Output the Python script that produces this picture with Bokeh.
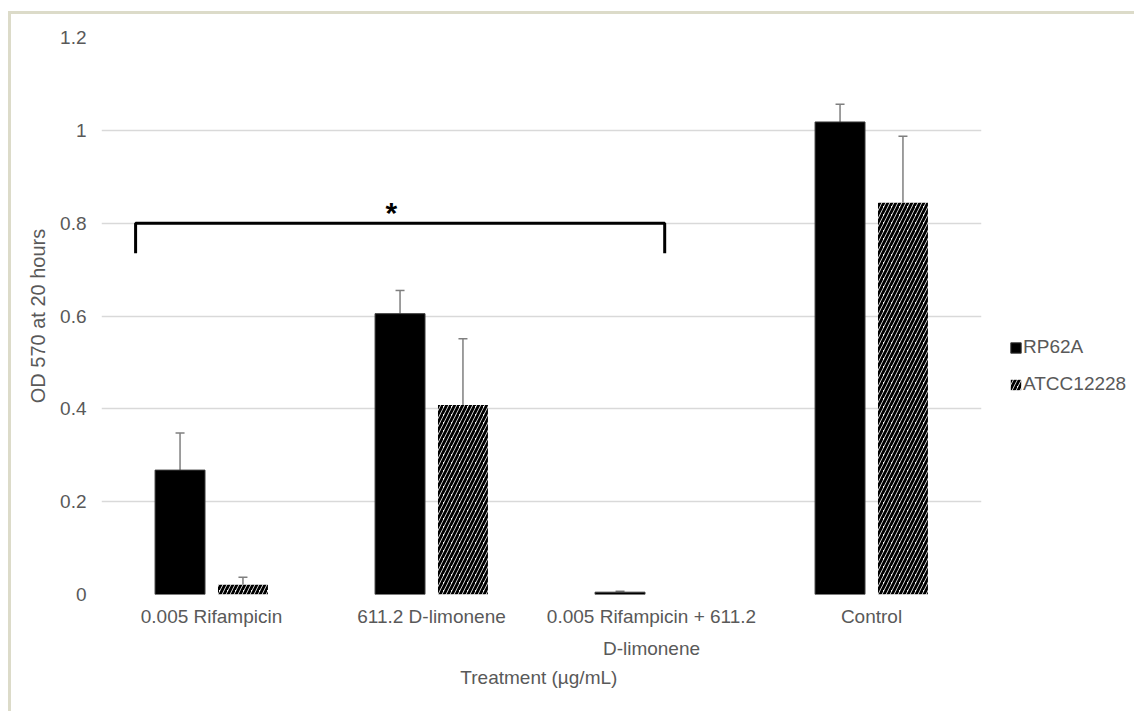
from bokeh.plotting import figure
from bokeh.models import (ColumnDataSource, FactorRange, Whisker, TeeHead, Legend,
                          LegendItem, Range1d, FixedTicker, Label)
from bokeh.transform import dodge
from bokeh.embed import file_html
from bokeh.resources import INLINE

# ---------------- data ----------------
treatments = ["0.005 Rifampicin", "611.2 D-limonene",
              "0.005 Rifampicin + 611.2\nD-limonene", "Control"]
series_names = ["RP62A", "ATCC12228"]
rp62a = [0.268, 0.605, 0.005, 1.018]
rp62a_err = [0.080, 0.050, 0.002, 0.038]
atcc = [0.021, 0.408, 0.0, 0.844]
atcc_err = [0.016, 0.143, 0.0, 0.143]
y_ticks = [0, 0.2, 0.4, 0.6, 0.8, 1.0, 1.2]
y_tick_labels = ["0", "0.2", "0.4", "0.6", "0.8", "1", "1.2"]
x_title = "Treatment  (\u00b5g/mL)"
y_title = "OD 570 at 20 hours"
sig_mark = "*"
sig_level = 0.8          # bracket height (data units)
sig_drop = 0.065         # bracket arms

FONT = "Liberation Sans"
GREY = "#595959"
FS = "19px"

src = ColumnDataSource(dict(
    cat=treatments, rp=rp62a, at=atcc,
))


def err_source(vals, errs):
    keep = [i for i, e in enumerate(errs) if e > 0]
    return ColumnDataSource(dict(
        cat=[treatments[i] for i in keep],
        lo=[vals[i] for i in keep],
        hi=[vals[i] + errs[i] for i in keep],
    ))


p = figure(x_range=FactorRange(*treatments), y_range=Range1d(0, 1.2),
           frame_width=880, frame_height=557, output_backend="svg", toolbar_location=None,
           min_border_left=90, min_border_right=150, min_border_top=23,
           min_border_bottom=117)
p.styles = {"border-top": "3px solid #dcdbc9", "border-left": "3px solid #dcdbc9",
            "margin-top": "11px", "margin-left": "8px"}
p.outline_line_color = None
p.background_fill_color = "white"

off = 0.143
w = 0.227
r1 = p.vbar(x=dodge("cat", -off, range=p.x_range), top="rp", width=w, source=src,
            fill_color="black", line_color="#3a3a3a", line_width=1)
r2 = p.vbar(x=dodge("cat", off, range=p.x_range), top="at", width=w, source=src,
            fill_color="white", line_color=None, hatch_pattern="/",
            hatch_color="black", hatch_scale=8, hatch_weight=2.8)

for xoff, vals, errs in [(-off, rp62a, rp62a_err), (off, atcc, atcc_err)]:
    es = err_source(vals, errs)
    wh = Whisker(source=es, base=dodge("cat", xoff, range=p.x_range), lower="lo", upper="hi",
                 line_color="#7f7f7f", line_width=1.5, lower_head=None,
                 upper_head=TeeHead(size=9, line_color="#7f7f7f", line_width=1.5))
    p.add_layout(wh)

# significance bracket
bx_left, bx_right = 0.155, 2.56
p.line(x=[bx_left, bx_left, bx_right, bx_right],
       y=[sig_level - sig_drop, sig_level, sig_level, sig_level - sig_drop],
       line_color="black", line_width=3)
p.add_layout(Label(x=(bx_left + bx_right) / 2 - 0.04, y=sig_level + 0.022, text=sig_mark,
                   text_font=FONT, text_font_size="30px", text_font_style="bold",
                   text_color="black", text_align="center", text_baseline="middle"))

# axes
p.yaxis.ticker = FixedTicker(ticks=y_ticks)
p.yaxis.major_label_overrides = {t: l for t, l in zip(y_ticks, y_tick_labels)}
for ax in (p.xaxis[0], p.yaxis[0]):
    ax.axis_line_color = None
    ax.major_tick_line_color = None
    ax.minor_tick_line_color = None
    ax.major_tick_out = 0
    ax.major_label_text_font = FONT
    ax.major_label_text_font_size = FS
    ax.major_label_text_color = GREY
    ax.axis_label_text_font = FONT
    ax.axis_label_text_font_size = FS
    ax.axis_label_text_font_style = "normal"
    ax.axis_label_text_color = GREY
p.xaxis.major_label_standoff = 11
p.xaxis.major_label_text_line_height = 1.55
p.xaxis.axis_label = x_title
p.xaxis.axis_label_standoff = 5
p.yaxis.major_label_standoff = 15
p.yaxis.axis_label = y_title
p.yaxis.axis_label_text_font_size = "20px"
p.yaxis.axis_label_standoff = 8

p.xgrid.grid_line_color = None
p.ygrid.grid_line_color = "#d9d9d9"
p.ygrid.grid_line_width = 1.5

legend = Legend(items=[LegendItem(label=series_names[0], renderers=[r1]),
                       LegendItem(label=series_names[1], renderers=[r2])],
                location=(28, 199), padding=0, margin=0, spacing=15,
                glyph_width=13, glyph_height=13, label_standoff=1,
                label_text_font=FONT, label_text_font_size=FS,
                label_text_color=GREY, background_fill_alpha=0,
                border_line_color=None)
p.add_layout(legend, "right")

open("out.html", "w").write(file_html(p, INLINE))
